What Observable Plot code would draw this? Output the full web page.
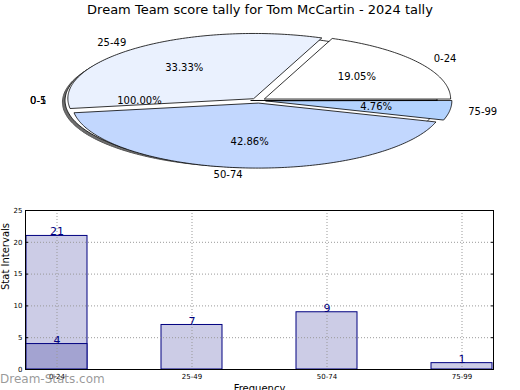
<!DOCTYPE html>
<html>
<head>
<meta charset="utf-8">
<script src="https://cdn.jsdelivr.net/npm/d3@7"></script>
<script src="https://cdn.jsdelivr.net/npm/@observablehq/plot@0.6"></script>
<style>
  html, body { margin: 0; padding: 0; background: #fff; overflow: hidden; }
  body { width: 520px; height: 390px; position: relative; font-family: "DejaVu Sans", sans-serif; }
  #title { position: absolute; left: 0; top: 2px; width: 520px; text-align: center; font-size: 13px; color: #000; }
  #pie { position: absolute; left: 0; top: 20px; }
  #bars { position: absolute; left: 0; top: 200px; }
  #mark { position: absolute; left: 0; top: 372px; font-size: 12px; font-weight: normal; color: rgba(120,120,120,0.75); }
</style>
</head>
<body>
<div id="title"></div>
<div id="pie"></div>
<div id="bars"></div>
<div id="mark">Dream-Stats.com</div>
<script>
// ---- data ----
const titleText = "Dream Team score tally for Tom McCartin - 2024 tally";
const categories = ["0-24", "25-49", "50-74", "75-99"];
const tallies = [21, 7, 9, 1];
const subCategories = ["0-24"];
const subTallies = [4];
const pieLabels = ["0-24", "25-49", "50-74", "75-99"];
const pieValues = [4, 7, 9, 1];
const pieColors = ["#ffffff", "#eaf1fe", "#c2d7fe", "#b3d3fe"];
const fullPieLabels = ["0-5", "0-1"];
const fullPieValues = [1];
const yTicks = [0, 5, 10, 15, 20, 25];

document.getElementById("title").textContent = titleText;

// ---- pie (elliptical, exploded) ----
const explode = 0.04;
const rad = d => d * Math.PI / 180;
function slicePoints(id, a0, a1, cx, cy, color) {
  const pts = [{id, x: cx, y: cy, color}];
  const n = Math.max(2, Math.ceil((a1 - a0) / 1));
  for (let i = 0; i <= n; i++) {
    const a = rad(a0 + (a1 - a0) * i / n);
    pts.push({id, x: cx + Math.cos(a), y: cy + Math.sin(a), color});
  }
  return pts;
}
const total = d3.sum(pieValues);
let acc = 0;
const slices = pieValues.map((v, i) => {
  const a0 = acc; acc += v / total * 360;
  const mid = rad((a0 + acc) / 2);
  return {label: pieLabels[i], pct: (v / total * 100).toFixed(2) + "%", a0, a1: acc,
          cx: explode * Math.cos(mid), cy: explode * Math.sin(mid), mid, color: pieColors[i]};
});
const fullTotal = d3.sum(fullPieValues);
const fullMid = rad(180);
const full = {cx: explode * Math.cos(fullMid), cy: explode * Math.sin(fullMid),
              pct: (fullPieValues[0] / fullTotal * 100).toFixed(2) + "%"};

const shadowPts = slicePoints("shadow", 0, 360, full.cx - 0.014, full.cy - 0.025, "#6e6e6e");
const fullPts = slicePoints("full", 0, 360, full.cx, full.cy, "#ffffff");
const slicePts = slices.flatMap(s => slicePoints(s.label, s.a0, s.a1, s.cx, s.cy, s.color));

const outerLabels = slices.map(s => ({text: s.label, x: s.cx + 1.1 * Math.cos(s.mid), y: s.cy + 1.1 * Math.sin(s.mid)}));
fullPieLabels.forEach(t => outerLabels.push({text: t, x: full.cx + 1.1 * Math.cos(fullMid), y: full.cy + 1.1 * Math.sin(fullMid)}));
const pctLabels = slices.map(s => ({text: s.pct, x: s.cx + 0.6 * Math.cos(s.mid), y: s.cy + 0.6 * Math.sin(s.mid)}));
pctLabels.push({text: full.pct, x: full.cx + 0.6 * Math.cos(fullMid), y: full.cy + 0.6 * Math.sin(fullMid)});

const rx = 186, ry = 65;
const pie = Plot.plot({
  width: 520, height: 170,
  margin: 0,
  style: {fontFamily: "DejaVu Sans", fontSize: "10px", background: "transparent"},
  x: {domain: [-258 / rx, 262 / rx], axis: null},
  y: {domain: [-90 / ry, 80 / ry], axis: null},
  color: {type: "identity"},
  marks: [
    Plot.line(shadowPts, {x: "x", y: "y", z: "id", fill: "color", stroke: "#555", strokeWidth: 1, curve: "linear-closed"}),
    Plot.line(fullPts, {x: "x", y: "y", z: "id", fill: "color", stroke: "#000", strokeWidth: 0.8, curve: "linear-closed"}),
    Plot.line(slicePts, {x: "x", y: "y", z: "id", fill: "color", stroke: "#000", strokeWidth: 0.8, curve: "linear-closed"}),
    Plot.text(outerLabels.filter(d => d.x >= 0), {x: "x", y: "y", text: "text", textAnchor: "start", fill: "#000"}),
    Plot.text(outerLabels.filter(d => d.x < 0), {x: "x", y: "y", text: "text", textAnchor: "end", fill: "#000"}),
    Plot.text(pctLabels, {x: "x", y: "y", text: "text", fill: "#000"})
  ]
});
document.getElementById("pie").appendChild(pie);

// ---- bars ----
const barData = categories.map((c, i) => ({cat: c, v: tallies[i]}));
const subData = subCategories.map((c, i) => ({cat: c, v: subTallies[i]}));
const navy = "#000080";
const bars = Plot.plot({
  width: 520, height: 190,
  marginTop: 10, marginBottom: 21, marginLeft: 25, marginRight: 27,
  style: {fontFamily: "DejaVu Sans", fontSize: "10px", background: "transparent"},
  x: {type: "band", domain: categories, paddingInner: 0.55, paddingOuter: 0, label: null},
  y: {domain: [0, 25], label: null},
  marks: [
    Plot.barY(barData, {x: "cat", y: "v", fill: "#ccccE6", stroke: navy, strokeWidth: 1}),
    Plot.barY(subData, {x: "cat", y: "v", fill: "#a3a3d1", stroke: navy, strokeWidth: 1}),
    Plot.gridY([5, 10, 15, 20], {stroke: "#999", strokeOpacity: 1, strokeDasharray: "1,2"}),
    Plot.gridX(categories, {stroke: "#999", strokeOpacity: 1, strokeDasharray: "1,2"}),
    Plot.text(barData, {x: "cat", y: "v", text: d => String(d.v), fill: navy, dy: -4, fontSize: 11}),
    Plot.text(subData, {x: "cat", y: "v", text: d => String(d.v), fill: navy, dy: -4, fontSize: 11}),
    Plot.frame({stroke: "#000", strokeWidth: 1}),
    Plot.axisY(yTicks, {anchor: "left", tickSize: 0, tickPadding: 3, fontSize: 7, fill: "#000"}),
    Plot.axisY(yTicks, {anchor: "left", tickSize: -3, text: null, stroke: "#000"}),
    Plot.axisY(yTicks, {anchor: "right", tickSize: -3, text: null, stroke: "#000"}),
    Plot.axisX({anchor: "bottom", tickSize: 0, tickPadding: 5, fontSize: 7, fill: "#000", label: null}),
    Plot.text(["Stat Intervals"], {frameAnchor: "left", rotate: -90, dx: -20, fontSize: 10, fill: "#000"}),
    Plot.text(["Frequency"], {frameAnchor: "bottom", dy: 15, lineAnchor: "top", fontSize: 10, fill: "#000"})
  ]
});
document.getElementById("bars").appendChild(bars);
</script>
</body>
</html>
